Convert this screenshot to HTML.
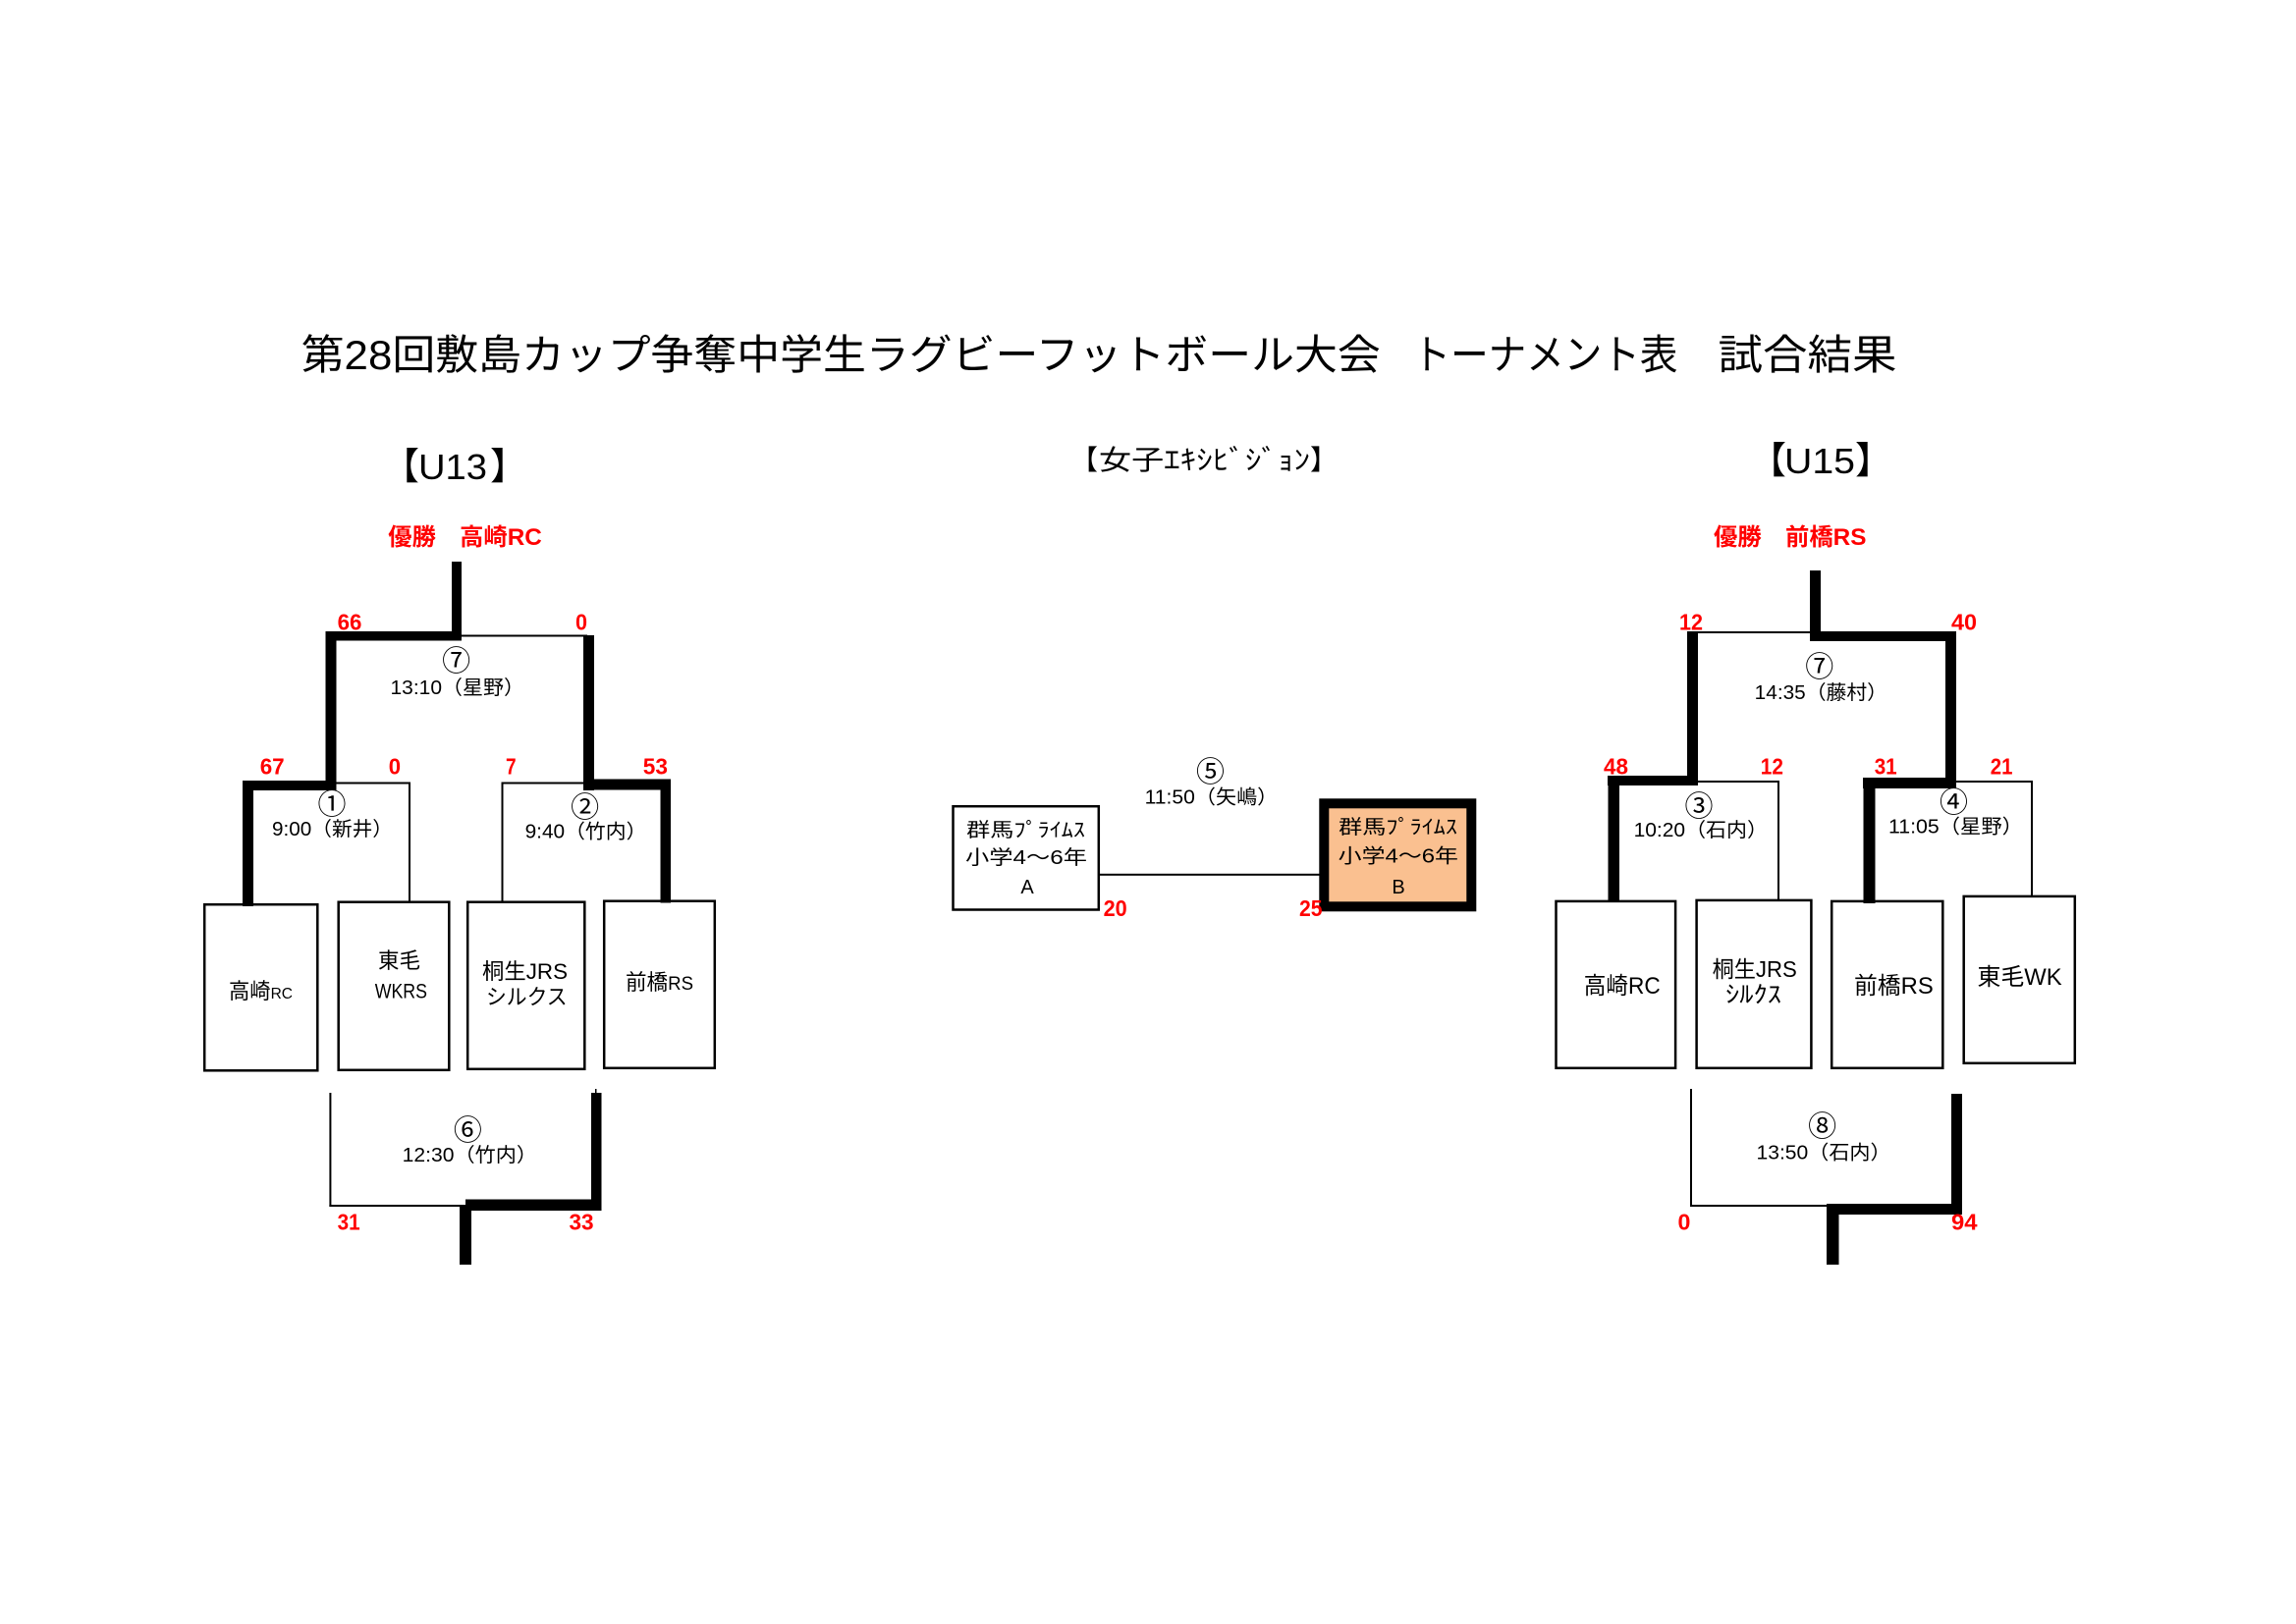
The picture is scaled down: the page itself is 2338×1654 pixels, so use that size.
<!DOCTYPE html>
<html>
<head>
<meta charset="utf-8">
<style>
html,body{margin:0;padding:0;background:#fff;}
svg{display:block;}
text{font-family:"Liberation Sans","Noto Sans CJK JP",sans-serif;}
.r{fill:#ff0000;font-weight:bold;}
</style>
</head>
<body>
<svg width="2338" height="1654" viewBox="0 0 2338 1654" xmlns="http://www.w3.org/2000/svg">
<rect x="0" y="0" width="2338" height="1654" fill="#fff"/>

<!-- Title -->
<text x="306.7" y="376" font-size="42" textLength="1099" lengthAdjust="spacingAndGlyphs">第28回敷島カップ争奪中学生ラグビーフットボール大会</text>
<text x="1438.5" y="376" font-size="42" textLength="270" lengthAdjust="spacingAndGlyphs">トーナメント表</text>
<text x="1749.5" y="376" font-size="42" textLength="182" lengthAdjust="spacingAndGlyphs">試合結果</text>

<!-- Section headers -->
<text x="389" y="488" font-size="38">【</text>
<text x="426" y="488" font-size="36" textLength="70" lengthAdjust="spacingAndGlyphs">U13</text>
<text x="499" y="488" font-size="38">】</text>

<text x="1090" y="478" font-size="28">【</text>
<text x="1119" y="478" font-size="28" textLength="215" lengthAdjust="spacingAndGlyphs">女子ｴｷｼﾋﾞｼﾞｮﾝ</text>
<text x="1334" y="478" font-size="28">】</text>

<text x="1781" y="482" font-size="38">【</text>
<text x="1817" y="482" font-size="36" textLength="72" lengthAdjust="spacingAndGlyphs">U15</text>
<text x="1889" y="482" font-size="38">】</text>

<!-- ================= U13 ================= -->
<text class="r" x="395.3" y="555" font-size="24" textLength="156.5" lengthAdjust="spacingAndGlyphs">優勝　高崎RC</text>

<rect x="460" y="572" width="10" height="80" fill="#000"/>
<rect x="332" y="643" width="138" height="9.5" fill="#000"/>
<rect x="470" y="646.5" width="128" height="2" fill="#000"/>
<rect x="331.5" y="643" width="11" height="162" fill="#000"/>
<rect x="594" y="647" width="11" height="158" fill="#000"/>
<rect x="247" y="795" width="95" height="10" fill="#000"/>
<rect x="341" y="796.5" width="77" height="2" fill="#000"/>
<rect x="247" y="795" width="11" height="128" fill="#000"/>
<rect x="416" y="796.5" width="2" height="122" fill="#000"/>
<rect x="510.5" y="796.5" width="85" height="2" fill="#000"/>
<rect x="594" y="793.5" width="89" height="11" fill="#000"/>
<rect x="510.5" y="796.5" width="2" height="122" fill="#000"/>
<rect x="672.5" y="793.5" width="10.5" height="126" fill="#000"/>

<text class="r" x="343.6" y="641.7" font-size="23" textLength="24.8" lengthAdjust="spacingAndGlyphs">66</text>
<text class="r" x="586" y="641.7" font-size="23" textLength="12" lengthAdjust="spacingAndGlyphs">0</text>
<text class="r" x="264.7" y="788.3" font-size="23" textLength="25" lengthAdjust="spacingAndGlyphs">67</text>
<text class="r" x="395.7" y="788.3" font-size="23" textLength="12.3" lengthAdjust="spacingAndGlyphs">0</text>
<text class="r" x="515" y="788.3" font-size="23" textLength="10.6" lengthAdjust="spacingAndGlyphs">7</text>
<text class="r" x="654.8" y="788.3" font-size="23" textLength="25.2" lengthAdjust="spacingAndGlyphs">53</text>

<text x="464.6" y="683" font-size="29" text-anchor="middle">⑦</text>
<text x="397.5" y="707" font-size="20" textLength="136.5" lengthAdjust="spacingAndGlyphs">13:10（星野）</text>
<text x="338" y="829" font-size="29" text-anchor="middle">①</text>
<text x="277" y="851" font-size="20" textLength="123" lengthAdjust="spacingAndGlyphs">9:00（新井）</text>
<text x="595.6" y="832" font-size="29" text-anchor="middle">②</text>
<text x="534.6" y="853.7" font-size="20" textLength="123.8" lengthAdjust="spacingAndGlyphs">9:40（竹内）</text>

<rect x="208.2" y="921.2" width="115.1" height="169.1" fill="none" stroke="#000" stroke-width="2.5"/>
<rect x="344.7" y="918.7" width="112.6" height="171.1" fill="none" stroke="#000" stroke-width="2.5"/>
<rect x="476.2" y="918.7" width="119.1" height="170.1" fill="none" stroke="#000" stroke-width="2.5"/>
<rect x="615.2" y="917.7" width="112.6" height="170.1" fill="none" stroke="#000" stroke-width="2.5"/>

<text x="233" y="1017" font-size="22" textLength="65" lengthAdjust="spacingAndGlyphs">高崎<tspan font-size="16">RC</tspan></text>
<text x="385" y="986" font-size="22" textLength="43" lengthAdjust="spacingAndGlyphs">東毛</text>
<text x="381.7" y="1016.5" font-size="21" textLength="53.3" lengthAdjust="spacingAndGlyphs">WKRS</text>
<text x="491" y="997" font-size="22" textLength="87" lengthAdjust="spacingAndGlyphs">桐生JRS</text>
<text x="495" y="1023" font-size="22" textLength="82.6" lengthAdjust="spacingAndGlyphs">シルクス</text>
<text x="637" y="1008" font-size="22" textLength="69" lengthAdjust="spacingAndGlyphs">前橋<tspan font-size="19">RS</tspan></text>

<rect x="335.4" y="1113" width="2" height="116" fill="#000"/>
<rect x="335.4" y="1227" width="142" height="2" fill="#000"/>
<rect x="474" y="1221.5" width="138.5" height="11.5" fill="#000"/>
<rect x="602" y="1113" width="10.5" height="120" fill="#000"/>
<rect x="606" y="1109" width="1.5" height="5" fill="#000"/>
<rect x="468" y="1228" width="12" height="60" fill="#000"/>
<text x="476.4" y="1161" font-size="29" text-anchor="middle">⑥</text>
<text x="409.7" y="1183" font-size="20" textLength="137.3" lengthAdjust="spacingAndGlyphs">12:30（竹内）</text>
<text class="r" x="343.6" y="1252.7" font-size="23" textLength="23" lengthAdjust="spacingAndGlyphs">31</text>
<text class="r" x="579.5" y="1252.7" font-size="23" textLength="25.1" lengthAdjust="spacingAndGlyphs">33</text>

<!-- ================= Women ================= -->
<text x="1232.5" y="796" font-size="29" text-anchor="middle">⑤</text>
<text x="1165.6" y="818.7" font-size="20" textLength="135.7" lengthAdjust="spacingAndGlyphs">11:50（矢嶋）</text>
<rect x="970.5" y="821.2" width="148.3" height="105.3" fill="none" stroke="#000" stroke-width="2.5"/>
<rect x="1120" y="889.8" width="225" height="2" fill="#000"/>
<rect x="1348.3" y="818.3" width="150" height="105" fill="#FAC090" stroke="#000" stroke-width="10"/>

<text x="984" y="852" font-size="20" textLength="121" lengthAdjust="spacingAndGlyphs">群馬ﾌﾟﾗｲﾑｽ</text>
<text x="983" y="880" font-size="20" textLength="124" lengthAdjust="spacingAndGlyphs">小学4～6年</text>
<text x="1046" y="910" font-size="20" text-anchor="middle">A</text>
<text x="1363" y="849" font-size="20" textLength="121" lengthAdjust="spacingAndGlyphs">群馬ﾌﾟﾗｲﾑｽ</text>
<text x="1362.7" y="878.5" font-size="20" textLength="122.3" lengthAdjust="spacingAndGlyphs">小学4～6年</text>
<text x="1424" y="910" font-size="20" text-anchor="middle">B</text>

<text class="r" x="1123.6" y="933" font-size="23" textLength="24.1" lengthAdjust="spacingAndGlyphs">20</text>
<text class="r" x="1323" y="933" font-size="23" textLength="23.6" lengthAdjust="spacingAndGlyphs">25</text>

<!-- ================= U15 ================= -->
<text class="r" x="1745" y="555" font-size="24" textLength="155.5" lengthAdjust="spacingAndGlyphs">優勝　前橋RS</text>

<rect x="1843" y="581" width="11" height="71" fill="#000"/>
<rect x="1728" y="643" width="115" height="2" fill="#000"/>
<rect x="1843" y="643" width="149" height="10" fill="#000"/>
<rect x="1718" y="643" width="11" height="157" fill="#000"/>
<rect x="1981" y="643" width="11" height="159" fill="#000"/>
<rect x="1637" y="790" width="90" height="10" fill="#000"/>
<rect x="1726" y="795" width="86" height="2" fill="#000"/>
<rect x="1637.5" y="790" width="11.5" height="127" fill="#000"/>
<rect x="1810" y="795" width="2" height="122" fill="#000"/>
<rect x="1897" y="792" width="95" height="11" fill="#000"/>
<rect x="1990" y="795" width="80" height="2" fill="#000"/>
<rect x="1897.5" y="792" width="12" height="128" fill="#000"/>
<rect x="2068" y="795" width="2" height="117" fill="#000"/>

<text class="r" x="1710" y="641.7" font-size="23" textLength="24" lengthAdjust="spacingAndGlyphs">12</text>
<text class="r" x="1987" y="641.7" font-size="23" textLength="26" lengthAdjust="spacingAndGlyphs">40</text>
<text class="r" x="1633" y="788.3" font-size="23" textLength="25" lengthAdjust="spacingAndGlyphs">48</text>
<text class="r" x="1792.8" y="788.3" font-size="23" textLength="23.2" lengthAdjust="spacingAndGlyphs">12</text>
<text class="r" x="1908.7" y="788.3" font-size="23" textLength="23" lengthAdjust="spacingAndGlyphs">31</text>
<text class="r" x="2026.8" y="788.3" font-size="23" textLength="22.7" lengthAdjust="spacingAndGlyphs">21</text>

<text x="1852.7" y="689" font-size="29" text-anchor="middle">⑦</text>
<text x="1786.7" y="712" font-size="20" textLength="135.3" lengthAdjust="spacingAndGlyphs">14:35（藤村）</text>
<text x="1730" y="831" font-size="29" text-anchor="middle">③</text>
<text x="1663.6" y="852" font-size="20" textLength="136.4" lengthAdjust="spacingAndGlyphs">10:20（石内）</text>
<text x="1989.5" y="827" font-size="29" text-anchor="middle">④</text>
<text x="1923" y="848.7" font-size="20" textLength="137" lengthAdjust="spacingAndGlyphs">11:05（星野）</text>

<rect x="1584.5" y="917.9" width="121.6" height="169.9" fill="none" stroke="#000" stroke-width="2.5"/>
<rect x="1727.6" y="916.9" width="116.8" height="170.9" fill="none" stroke="#000" stroke-width="2.5"/>
<rect x="1865.2" y="917.9" width="113.1" height="169.9" fill="none" stroke="#000" stroke-width="2.5"/>
<rect x="1999.7" y="912.9" width="113.1" height="169.9" fill="none" stroke="#000" stroke-width="2.5"/>

<text x="1612.7" y="1012" font-size="24" textLength="78" lengthAdjust="spacingAndGlyphs">高崎RC</text>
<text x="1743.6" y="995" font-size="23" textLength="86.2" lengthAdjust="spacingAndGlyphs">桐生JRS</text>
<text x="1757" y="1021" font-size="24" textLength="57" lengthAdjust="spacingAndGlyphs">ｼﾙｸｽ</text>
<text x="1888" y="1012" font-size="24" textLength="80.7" lengthAdjust="spacingAndGlyphs">前橋RS</text>
<text x="2013.5" y="1003" font-size="24" textLength="86.2" lengthAdjust="spacingAndGlyphs">東毛WK</text>

<rect x="1721" y="1109" width="2" height="120" fill="#000"/>
<rect x="1721" y="1227" width="142" height="2" fill="#000"/>
<rect x="1861" y="1226" width="137" height="11" fill="#000"/>
<rect x="1987" y="1114" width="11" height="123" fill="#000"/>
<rect x="1860" y="1226" width="12.5" height="62" fill="#000"/>
<text x="1855.6" y="1157" font-size="29" text-anchor="middle">⑧</text>
<text x="1788.5" y="1180.3" font-size="20" textLength="137.1" lengthAdjust="spacingAndGlyphs">13:50（石内）</text>
<text class="r" x="1708.5" y="1252.7" font-size="23" textLength="12.9" lengthAdjust="spacingAndGlyphs">0</text>
<text class="r" x="1987" y="1252.7" font-size="23" textLength="26.5" lengthAdjust="spacingAndGlyphs">94</text>
</svg>
</body>
</html>
